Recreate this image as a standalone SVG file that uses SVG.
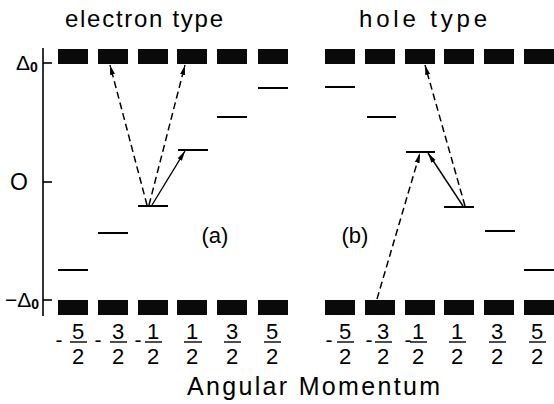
<svg xmlns="http://www.w3.org/2000/svg" width="554" height="404" viewBox="0 0 554 404">
<style>
.blk{fill:#0a0a0a}
.lvl{stroke:#000;stroke-width:2;fill:none}
.ax{stroke:#000;stroke-width:1.6;fill:none}
.solid{stroke:#000;stroke-width:1.4;fill:none}
.dash{stroke:#000;stroke-width:1.5;fill:none;stroke-dasharray:7 4}
text{font-family:"Liberation Sans",Arial,sans-serif;fill:#000}
.t{font-size:24px}
.f{font-size:22px;text-anchor:middle}
.m{font-size:21px;text-anchor:middle}
.bar{stroke:#000;stroke-width:1.4}
</style>
<defs>
<marker id="ah" viewBox="0 0 10 6" refX="10" refY="3" markerWidth="10" markerHeight="6" markerUnits="userSpaceOnUse" orient="auto">
<path d="M0,0.5 L10,3 L0,5.5 Z" fill="#000"/>
</marker>
</defs>
<g id="titles">
<text class="t" x="65" y="27" textLength="158" lengthAdjust="spacing">electron  type</text>
<text class="t" x="359" y="27" textLength="128" lengthAdjust="spacing">hole  type</text>
</g>
<g id="axis">
<line class="ax" x1="43" y1="48" x2="43" y2="316"/>
<line class="ax" x1="43" y1="63" x2="52" y2="63"/>
<line class="ax" x1="43" y1="182" x2="52" y2="182"/>
<line class="ax" x1="43" y1="300" x2="52" y2="300"/>
<text x="16" y="70" font-size="21">Δ<tspan font-size="14" dy="2" font-weight="bold">0</tspan></text>
<text x="10" y="190" font-size="23">O</text>
<text x="5" y="307" font-size="21">−Δ<tspan font-size="14" dy="2" font-weight="bold">0</tspan></text>
</g>
<g id="top-band">
<rect class="blk" x="58" y="49" width="30" height="15"/>
<rect class="blk" x="98" y="49" width="30" height="15"/>
<rect class="blk" x="138" y="49" width="30" height="15"/>
<rect class="blk" x="177" y="49" width="30" height="15"/>
<rect class="blk" x="217" y="49" width="30" height="15"/>
<rect class="blk" x="258" y="49" width="30" height="15"/>
<rect class="blk" x="325" y="49" width="30" height="15"/>
<rect class="blk" x="365" y="49" width="30" height="15"/>
<rect class="blk" x="405" y="49" width="30" height="15"/>
<rect class="blk" x="444" y="49" width="30" height="15"/>
<rect class="blk" x="484" y="49" width="30" height="15"/>
<rect class="blk" x="524" y="49" width="30" height="15"/>
</g>
<g id="bottom-band">
<rect class="blk" x="58" y="300" width="30" height="15"/>
<rect class="blk" x="98" y="300" width="30" height="15"/>
<rect class="blk" x="138" y="300" width="30" height="15"/>
<rect class="blk" x="177" y="300" width="30" height="15"/>
<rect class="blk" x="217" y="300" width="30" height="15"/>
<rect class="blk" x="258" y="300" width="30" height="15"/>
<rect class="blk" x="325" y="300" width="30" height="15"/>
<rect class="blk" x="365" y="300" width="30" height="15"/>
<rect class="blk" x="405" y="300" width="30" height="15"/>
<rect class="blk" x="444" y="300" width="30" height="15"/>
<rect class="blk" x="484" y="300" width="30" height="15"/>
<rect class="blk" x="524" y="300" width="30" height="15"/>
</g>
<g id="levels-a">
<line class="lvl" x1="58" y1="270" x2="88" y2="270"/>
<line class="lvl" x1="98" y1="233" x2="128" y2="233"/>
<line class="lvl" x1="138" y1="206" x2="168" y2="206"/>
<line class="lvl" x1="178" y1="150" x2="208" y2="150"/>
<line class="lvl" x1="217" y1="117" x2="247" y2="117"/>
<line class="lvl" x1="258" y1="88" x2="288" y2="88"/>
</g>
<g id="levels-b">
<line class="lvl" x1="325" y1="87" x2="355" y2="87"/>
<line class="lvl" x1="367" y1="117" x2="396" y2="117"/>
<line class="lvl" x1="406" y1="152" x2="435" y2="152"/>
<line class="lvl" x1="444" y1="207" x2="474" y2="207"/>
<line class="lvl" x1="485" y1="231" x2="515" y2="231"/>
<line class="lvl" x1="524" y1="270" x2="554" y2="270"/>
</g>
<g id="connectors">
<line class="dash" x1="147" y1="205" x2="110" y2="65" marker-end="url(#ah)"/>
<line class="dash" x1="149" y1="205" x2="185" y2="65" marker-end="url(#ah)"/>
<line class="solid" x1="152" y1="205" x2="185" y2="151" marker-end="url(#ah)"/>
<line class="dash" x1="377" y1="299" x2="420" y2="153" marker-end="url(#ah)"/>
<line class="solid" x1="463" y1="206" x2="428" y2="153" marker-end="url(#ah)"/>
<line class="dash" x1="465" y1="206" x2="425" y2="65" marker-end="url(#ah)"/>
</g>
<g id="labels">
<text x="215" y="243" font-size="22" text-anchor="middle">(a)</text>
<text x="355" y="243" font-size="22" text-anchor="middle">(b)</text>
</g>
<g id="ticks-a">
<text class="m" x="59" y="347">-</text>
<text class="f" x="78" y="339">5</text><line class="bar" x1="70" y1="342" x2="87" y2="342"/><text class="f" x="78" y="364">2</text>
<text class="m" x="98" y="347">-</text>
<text class="f" x="118" y="339">3</text><line class="bar" x1="110" y1="342" x2="127" y2="342"/><text class="f" x="118" y="364">2</text>
<text class="m" x="138" y="347">-</text>
<text class="f" x="153" y="339">1</text><line class="bar" x1="145" y1="342" x2="162" y2="342"/><text class="f" x="153" y="364">2</text>
<text class="f" x="192" y="339">1</text><line class="bar" x1="184" y1="342" x2="202" y2="342"/><text class="f" x="192" y="364">2</text>
<text class="f" x="232" y="339">3</text><line class="bar" x1="224" y1="342" x2="241" y2="342"/><text class="f" x="232" y="364">2</text>
<text class="f" x="272" y="339">5</text><line class="bar" x1="264" y1="342" x2="281" y2="342"/><text class="f" x="272" y="364">2</text>
</g>
<g id="ticks-b">
<text class="m" x="329" y="347">-</text>
<text class="f" x="345" y="339">5</text><line class="bar" x1="337" y1="342" x2="354" y2="342"/><text class="f" x="345" y="364">2</text>
<text class="m" x="369" y="347">-</text>
<text class="f" x="383" y="339">3</text><line class="bar" x1="375" y1="342" x2="392" y2="342"/><text class="f" x="383" y="364">2</text>
<text class="m" x="408" y="347">-</text>
<text class="f" x="418" y="339">1</text><line class="bar" x1="410" y1="342" x2="427" y2="342"/><text class="f" x="418" y="364">2</text>
<text class="f" x="457" y="339">1</text><line class="bar" x1="449" y1="342" x2="466" y2="342"/><text class="f" x="457" y="364">2</text>
<text class="f" x="497" y="339">3</text><line class="bar" x1="489" y1="342" x2="506" y2="342"/><text class="f" x="497" y="364">2</text>
<text class="f" x="537" y="339">5</text><line class="bar" x1="529" y1="342" x2="546" y2="342"/><text class="f" x="537" y="364">2</text>
</g>
<g id="xlabel">
<text x="187" y="395" font-size="25" textLength="253" lengthAdjust="spacing">Angular  Momentum</text>
</g>
</svg>
